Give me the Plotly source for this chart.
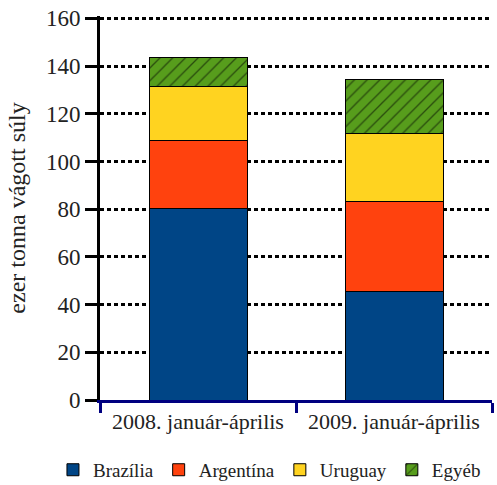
import plotly.graph_objects as go

categories = ["2008. január-április", "2009. január-április"]
brazilia = [80.3, 45.3]
argentina = [28.7, 38.1]
uruguay = [22.5, 28.4]
egyeb = [12.1, 22.7]
y_ticks = [0, 20, 40, 60, 80, 100, 120, 140, 160]

font = "Liberation Serif"
fig = go.Figure()
series = [
    ("Brazília", brazilia, "#004586", None),
    ("Argentína", argentina, "#ff420e", None),
    ("Uruguay", uruguay, "#ffd320", None),
    ("Egyéb", egyeb, "#579d1c", "/"),
]
for name, vals, col, pat in series:
    marker = dict(color=col, line=dict(color="black", width=1))
    if pat:
        marker["pattern"] = dict(shape=pat, fgcolor="black", bgcolor=col, size=9, solidity=0.15, fillmode="overlay")
    fig.add_trace(go.Bar(name=name, x=categories, y=vals, marker=marker))

fig.update_layout(
    barmode="stack",
    bargap=0.5,
    width=497, height=485,
    margin=dict(l=100, r=5, t=16, b=85, autoexpand=False),
    plot_bgcolor="white", paper_bgcolor="white",
    font=dict(family=font, size=20, color="#222"),
    legend=dict(orientation="h", traceorder="normal", x=-0.12, xanchor="left",
                y=-0.182, yanchor="middle", font=dict(family=font, size=19),
                itemwidth=30, tracegroupgap=0),
    showlegend=True,
)
fig.update_yaxes(
    range=[0, 161], tickvals=y_ticks, showgrid=True, gridcolor="black", gridwidth=3,
    griddash="4px,3px", showline=True, linecolor="black", linewidth=3,
    ticks="outside", ticklen=12, tickwidth=3, tickcolor="black",
    title=dict(text="ezer tonna vágott súly", font=dict(family=font, size=24), standoff=14),
    tickfont=dict(family=font, size=23), zeroline=False, automargin=False,
)
fig.update_xaxes(
    showline=True, linecolor="#000080", linewidth=3, tickson="boundaries",
    ticks="outside", ticklen=10, tickwidth=3, tickcolor="#000080",
    tickfont=dict(family=font, size=22), automargin=False,
)
fig.write_html("out.html", config={"displayModeBar": False},
               post_script="document.body.style.margin='0';")
